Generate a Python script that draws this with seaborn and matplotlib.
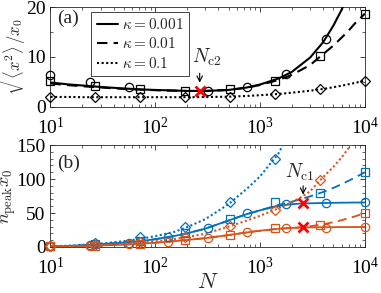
import pandas as pd
import seaborn as sns
from matplotlib import pyplot as plt
from matplotlib.ticker import AutoMinorLocator, FixedLocator

# ---- panel (a): rms width vs N ----
curve_n = [10, 15, 20, 30, 50, 75, 100, 150, 200, 300, 500, 750, 1000, 1500,
           2000, 3000, 4000, 5000, 6000, 7000, 8000, 10000]
width_k001 = [4.9, 4.5, 4.3, 4.0, 3.7, 3.5, 3.4, 3.3, 3.2, 3.2, 3.4, 3.9, 4.5, 5.7,
              7.0, 9.9, 13.0, 16.3, 19.5, 23.0, 26.0, 33.0]
width_k01 = [4.7, 4.35, 4.15, 3.9, 3.6, 3.45, 3.35, 3.25, 3.2, 3.2, 3.4, 3.85, 4.4, 5.4,
             6.4, 8.4, 10.6, 12.3, 13.9, 15.3, 16.7, 18.7]
width_k1 = [2.0, 2.0, 1.95, 1.95, 1.95, 1.95, 1.95, 1.95, 1.95, 1.98, 2.05, 2.2, 2.35, 2.6,
            2.85, 3.25, 3.6, 3.95, 4.25, 4.55, 4.8, 5.3]

circ_n = [10, 23.7, 56.2, 133, 316, 750, 1778, 4217, 10000]
sq_n = [10, 26.8, 72, 193, 518, 1389, 3728, 10000]

a_circ_n = [10, 23.7, 56.2, 316, 750, 1778, 4217]
a_circ = [6.4, 5.0, 3.9, 3.2, 3.9, 6.5, 13.6]
a_sq = [5.2, 4.2, 3.6, 3.2, 3.5, 5.2, 10.1, 18.7]
a_dia = [1.9, 1.9, 1.9, 2.0, 2.0, 2.55, 3.55, 5.2]

nc2 = 265
nc2_width = 3.2

# ---- panel (b): n_peak x0 vs N ----
b_n = [10, 15, 20, 30, 50, 75, 100, 150, 200, 300, 500, 750, 1000, 1500,
       2000, 2500, 3000, 4000, 5000, 6000, 7000, 8000, 10000]
blue_solid = [0.5, 1.5, 2.5, 4, 6.5, 9, 11.5, 16, 20, 27, 39, 48.5, 54, 60.5,
              63, 64, 64.3, 64.7, 65, 65.2, 65.3, 65.4, 65.5]
blue_dashed = [0.5, 1.5, 2.5, 4, 6.5, 9, 11.5, 16, 20, 27, 39, 48.5, 54, 62,
               66.5, 71, 74.5, 81, 87, 92.5, 97.5, 102, 110]
blue_dotted = [1, 2, 3, 5, 8.5, 12.5, 16, 22, 29, 41, 63, 86, 104, 138,
               175, 210, 245, 310, 370, 430, 490, 550, 660]
orange_solid = [0.3, 0.8, 1.3, 2.2, 3.5, 5, 6.3, 8.5, 10.3, 13, 17.5, 21.5, 24, 26.8,
                28, 28.6, 28.9, 29.1, 29.2, 29.3, 29.3, 29.4, 29.5]
orange_dashed = [0.3, 0.8, 1.3, 2.2, 3.5, 5, 6.3, 8.5, 10.3, 13, 17.5, 21.5, 24, 26.8,
                 28, 29.3, 30.5, 33.5, 36.5, 39.5, 42.5, 45, 50]
orange_dotted = [0.5, 1, 1.7, 2.8, 4.5, 6.5, 8.3, 11.5, 14.5, 19.5, 30, 39, 46, 57,
                 66, 74, 82, 103, 118, 132, 146, 160, 185]

blue_circ = [1, 3, 6, 15, 27.5, 49.6, 63, 65, 65.5]
blue_sq = [1, 4, 9, 21, 41, 65.7, 80, 110]
blue_dia_n = [10, 26.8, 72, 193, 518, 1389]
blue_dia = [1.5, 6, 14, 29, 66, 130]
orange_circ = [1, 2, 4, 8, 12.8, 22, 27.5, 28.4, 29]
orange_sq = [0.8, 2, 5, 10.5, 17.6, 28, 32, 50]
orange_dia_n = [10, 26.8, 72, 193, 518, 1389, 3728]
orange_dia = [1, 3, 7, 15, 31, 55, 98.5]

nc1 = 2570
nc1_blue = 64.5
nc1_orange = 29

BLUE = '#0072BD'
ORANGE = '#D95319'
AXC = '#262626'

sns.set_style('ticks')
plt.rcParams['font.family'] = ['Liberation Serif', 'DejaVu Serif']
plt.rcParams['mathtext.fontset'] = 'stix'
plt.rcParams['axes.edgecolor'] = AXC
plt.rcParams['xtick.color'] = AXC
plt.rcParams['ytick.color'] = AXC
plt.rcParams['xtick.labelcolor'] = 'k'
plt.rcParams['ytick.labelcolor'] = 'k'


def curve(ax, x, y, color, ls, lw, label=None):
    sns.lineplot(x=x, y=y, ax=ax, color=color, linestyle=ls, linewidth=lw,
                 label=label, zorder=3)


def markers(ax, x, y, color, marker, size=6):
    sns.lineplot(x=x, y=y, ax=ax, color=color, linestyle='none', marker=marker,
                 markersize=size, markerfacecolor='none', markeredgecolor=color,
                 markeredgewidth=0.9, clip_on=False, zorder=4)


def cross(ax, x, y):
    sns.lineplot(x=[x], y=[y], ax=ax, color='red', linestyle='none', marker='x',
                 markersize=7, markeredgewidth=2, markeredgecolor='red', zorder=5)


def style_axes(ax):
    ax.set_xscale('log')
    ax.set_xlim(10, 1e4)
    ax.tick_params(which='both', direction='in', top=True, right=True, labelsize=14)
    ax.tick_params(which='major', length=3.5, width=0.6)
    ax.tick_params(which='minor', length=2, width=0.5)
    ax.tick_params(axis='x', pad=7)
    for s in ax.spines.values():
        s.set_visible(True)
        s.set_linewidth(0.6)


fig = plt.figure(figsize=(3.81, 2.93), dpi=100)
ax1 = fig.add_axes([0.1325, 0.635, 0.8255, 0.341])
ax2 = fig.add_axes([0.1325, 0.157, 0.8255, 0.348])
style_axes(ax1)
style_axes(ax2)

# (a)
curve(ax1, curve_n, width_k001, 'k', '-', 1.5, r'$\kappa = 0.001$')
curve(ax1, curve_n, width_k01, 'k', (0, (5, 3)), 1.5, r'$\kappa = 0.01$')
curve(ax1, curve_n, width_k1, 'k', (0, (1, 1.2)), 1.5, r'$\kappa = 0.1$')
markers(ax1, a_circ_n, a_circ, 'k', 'o')
markers(ax1, sq_n, a_sq, 'k', 's', 5.5)
markers(ax1, sq_n, a_dia, 'k', 'D', 5)
cross(ax1, nc2, nc2_width)
ax1.annotate('', xy=(nc2, 4.3), xytext=(nc2, 7.3),
             arrowprops=dict(arrowstyle='->', color='k', lw=0.8))
ax1.text(311, 10, r'$N_{\rm c2}$', ha='center', va='center', fontsize=14,
         math_fontfamily='cm')
ax1.set_ylim(0, 20)
ax1.yaxis.set_major_locator(FixedLocator([0, 10, 20]))
ax1.yaxis.set_minor_locator(AutoMinorLocator(2))
ax1.set_ylabel(r'$\sqrt{\langle x^2\rangle}/x_0$', fontsize=12, math_fontfamily='cm')
ax1.yaxis.set_label_coords(-0.07, 0.5)
ax1.text(0.02, 0.89, '(a)', transform=ax1.transAxes, va='center', fontsize=14)
leg = ax1.legend(loc='upper left', bbox_to_anchor=(0.13, 0.955), fontsize=11,
                 frameon=True, fancybox=False, framealpha=1, edgecolor=AXC,
                 handlelength=1.4, handletextpad=0.25, labelspacing=0.3,
                 borderpad=0.35, borderaxespad=0)
leg.get_frame().set_linewidth(0.6)
for t in leg.get_texts():
    t.set_math_fontfamily('cm')

# (b)
curve(ax2, b_n, blue_solid, BLUE, '-', 1.3)
curve(ax2, b_n, blue_dashed, BLUE, (0, (5, 3)), 1.3)
curve(ax2, b_n, blue_dotted, BLUE, (0, (1, 1.2)), 1.5)
curve(ax2, b_n, orange_solid, ORANGE, '-', 1.3)
curve(ax2, b_n, orange_dashed, ORANGE, (0, (5, 3)), 1.3)
curve(ax2, b_n, orange_dotted, ORANGE, (0, (1, 1.2)), 1.5)
markers(ax2, circ_n, blue_circ, BLUE, 'o')
markers(ax2, sq_n, blue_sq, BLUE, 's', 5.5)
markers(ax2, blue_dia_n, blue_dia, BLUE, 'D', 5)
markers(ax2, circ_n, orange_circ, ORANGE, 'o')
markers(ax2, sq_n, orange_sq, ORANGE, 's', 5.5)
markers(ax2, orange_dia_n, orange_dia, ORANGE, 'D', 5)
cross(ax2, nc1, nc1_blue)
cross(ax2, nc1, nc1_orange)
ax2.annotate('', xy=(nc1, 73), xytext=(nc1, 94),
             arrowprops=dict(arrowstyle='->', color='k', lw=0.8))
ax2.text(2404, 110, r'$N_{\rm c1}$', ha='center', va='center', fontsize=14,
         math_fontfamily='cm')
ax2.set_ylim(0, 150)
ax2.yaxis.set_major_locator(FixedLocator([0, 50, 100, 150]))
ax2.yaxis.set_minor_locator(AutoMinorLocator(5))
ax2.set_ylabel(r'$n_{\rm peak}x_0$', fontsize=13, math_fontfamily='cm')
ax2.yaxis.set_label_coords(-0.104, 0.5)
ax2.set_xlabel(r'$N$', fontsize=16, math_fontfamily='cm', labelpad=-3)
ax2.text(0.02, 0.82, '(b)', transform=ax2.transAxes, va='center', fontsize=14)
if ax2.get_legend() is not None:
    ax2.get_legend().remove()

fig.savefig('out.png', dpi=100)
